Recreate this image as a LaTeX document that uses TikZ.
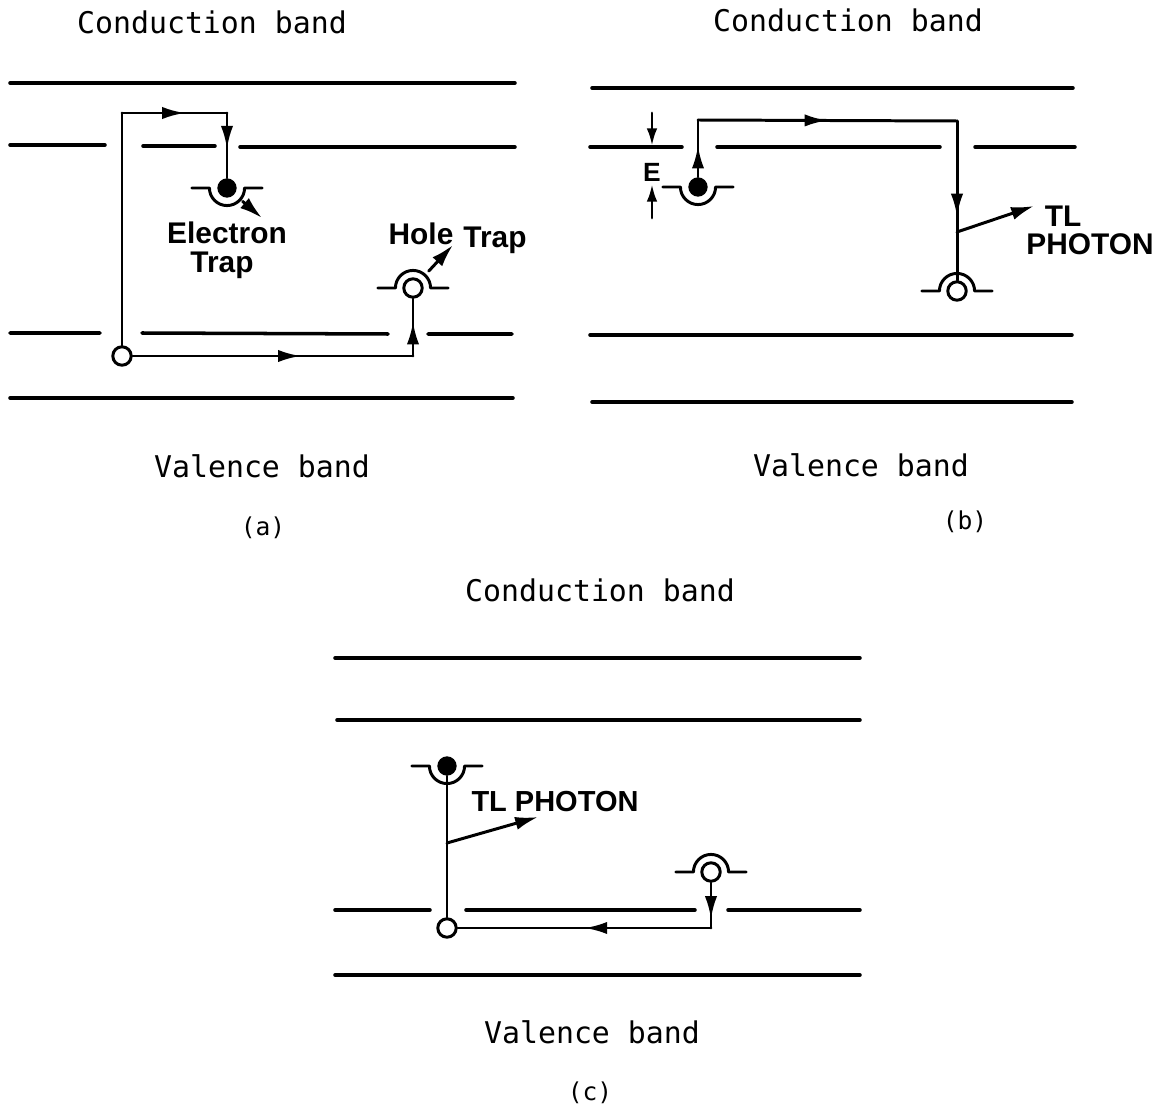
\documentclass[tikz,border=0pt]{standalone}
\usepackage{fontspec}
\setmainfont{Liberation Sans}
\newfontfamily\bandfont{DejaVu Sans Mono}
\usetikzlibrary{arrows.meta,decorations.markings}

\tikzset{
  band/.style={line width=2pt},
  jump/.style={line width=1.7pt},
  flow/.style={jump,postaction={decorate},
    decoration={markings,mark=at position #1 with {\arrow{Latex[length=13pt,width=7pt]}}}},
  emit/.style={line width=1.7pt,-{Latex[length=13pt,width=7.5pt]}},
  electron/.style={circle,fill=black,inner sep=0pt,minimum size=11pt},
  hole/.style={circle,draw=black,line width=1.7pt,fill=white,inner sep=0pt,minimum size=10.5pt},
  bandlabel/.style={font=\bandfont\fontsize{17}{20}\selectfont,inner sep=0pt},
  traplabel/.style={font=\bfseries\fontsize{17}{20}\selectfont,inner sep=0pt},
}
% cup under an electron trap, cap over a hole trap
\newcommand{\cupat}[1]{\draw[jump] ([xshift=-20pt]#1.center) -- ([xshift=-10pt]#1.center)
  arc[start angle=180,end angle=360,radius=10pt] -- ([xshift=20pt]#1.center);}
\newcommand{\capat}[1]{\draw[jump] ([xshift=-20pt]#1.center) -- ([xshift=-10pt]#1.center)
  arc[start angle=180,end angle=0,radius=10pt] -- ([xshift=20pt]#1.center);}

\begin{document}
\begin{tikzpicture}[x=0.02cm,y=-0.02cm,line cap=round,line join=round]
  \useasboundingbox (0,0) rectangle (1164,1108);

  % ---- (a) ----
  \draw[band] (10,83) -- (515,83);
  \draw[band] (10,145) -- (105,145) (143,146) -- (215,146) (240,147) -- (515,147);
  \draw[band] (10,333) -- (100,333) (142,333) -- (388,334) (428,334) -- (512,334);
  \draw[band] (10,398) -- (513,398);

  \coordinate (a-c1) at (122,113);
  \coordinate (a-c2) at (227,113);
  \coordinate (a-c3) at (413,356);
  \coordinate (a-eout) at (262,218);
  \coordinate (a-hout) at (453,245);

  \draw[jump] (122,356) -- (a-c1);
  \draw[flow=.6] (a-c1) -- (a-c2);
  \node[electron] (a-e) at (227,188) {};
  \draw[flow=.55] (a-c2) -- (a-e);
  \node[hole] (a-h0) at (122,356) {};
  \node[hole] (a-h) at (413,288) {};
  \draw[flow=.6] (a-h0) -- (a-c3);
  \draw[flow=.6] (a-c3) -- (a-h);
  \cupat{a-e}
  \capat{a-h}
  \draw[emit,shorten <=6pt] (a-e) -- (a-eout);
  \draw[emit,shorten <=7pt] (a-h) -- (a-hout);

  \node[traplabel] (a-elab) at (227,233) {Electron};
  \node[traplabel] (a-etrap) at (222,265) {Trap};
  \node[traplabel] (a-hlab) at (421,234) {Hole};
  \node[traplabel] (a-htrap) at (495,240) {Trap};

  \node[bandlabel] (a-cb) at (212,22) {Conduction band};
  \node[bandlabel] (a-vb) at (262,466) {Valence band};
  \node[bandlabel,font=\bandfont\fontsize{14}{16}\selectfont] (a-cap) at (263,528) {(a)};

  % ---- (b) ----
  \draw[band] (592,88) -- (1073,88);
  \draw[band] (590,147) -- (682,147) (717,147) -- (940,147) (975,147) -- (1075,147);
  \draw[band] (590,335) -- (1072,335);
  \draw[band] (592,402) -- (1072,402);

  \coordinate (b-c1) at (698,120);
  \coordinate (b-c2) at (957,121);
  \coordinate (b-ph) at (957,232);
  \coordinate (b-phout) at (1034,206);

  \node[electron] (b-e) at (698,187) {};
  \node[hole] (b-h) at (957,291) {};
  \draw[flow=.55] (b-e) -- (b-c1);
  \draw[flow=.5] (b-c1) -- (b-c2);
  \draw[flow=.6] (b-c2) -- (b-h);
  \cupat{b-e}
  \capat{b-h}
  \draw[emit] (b-ph) -- (b-phout);

  \node[traplabel,font=\bfseries\fontsize{15}{18}\selectfont] (b-E) at (652,172) {E};
  \coordinate (b-Et) at (652,113);
  \coordinate (b-Eh) at (652,146);
  \coordinate (b-Eb) at (652,218);
  \coordinate (b-El) at (652,184);
  \draw[emit,-{Latex[length=10pt,width=6pt]}] (b-Et) -- (b-Eh);
  \draw[emit,-{Latex[length=10pt,width=6pt]}] (b-Eb) -- (b-El);

  \node[traplabel] (b-tl) at (1063,216) {TL};
  \node[traplabel] (b-photon) at (1090,244) {PHOTON};

  \node[bandlabel] (b-cb) at (848,20) {Conduction band};
  \node[bandlabel] (b-vb) at (861,465) {Valence band};
  \node[bandlabel,font=\bandfont\fontsize{14}{16}\selectfont] (b-cap) at (965,522) {(b)};

  % ---- (c) ----
  \draw[band] (335,658) -- (860,658);
  \draw[band] (337,720) -- (860,720);
  \draw[band] (335,910) -- (430,910) (466,910) -- (695,910) (728,910) -- (860,910);
  \draw[band] (335,975) -- (860,975);

  \coordinate (c-c1) at (711,928);
  \coordinate (c-ph) at (447,843);
  \coordinate (c-phout) at (538,817);

  \node[electron] (c-e) at (447,766) {};
  \node[hole] (c-h0) at (447,928) {};
  \node[hole] (c-h) at (711,872) {};
  \draw[jump] (c-e) -- (c-h0);
  \draw[flow=.8] (c-h) -- (c-c1);
  \draw[flow=.5] (c-c1) -- (c-h0);
  \cupat{c-e}
  \capat{c-h}
  \draw[emit] (c-ph) -- (c-phout);

  \node[traplabel,font=\bfseries\fontsize{16.5}{20}\selectfont] (c-photon) at (555,802) {TL PHOTON};

  \node[bandlabel] (c-cb) at (600,590) {Conduction band};
  \node[bandlabel] (c-vb) at (592,1032) {Valence band};
  \node[bandlabel,font=\bandfont\fontsize{14}{16}\selectfont] (c-cap) at (590,1093) {(c)};
\end{tikzpicture}
\end{document}
